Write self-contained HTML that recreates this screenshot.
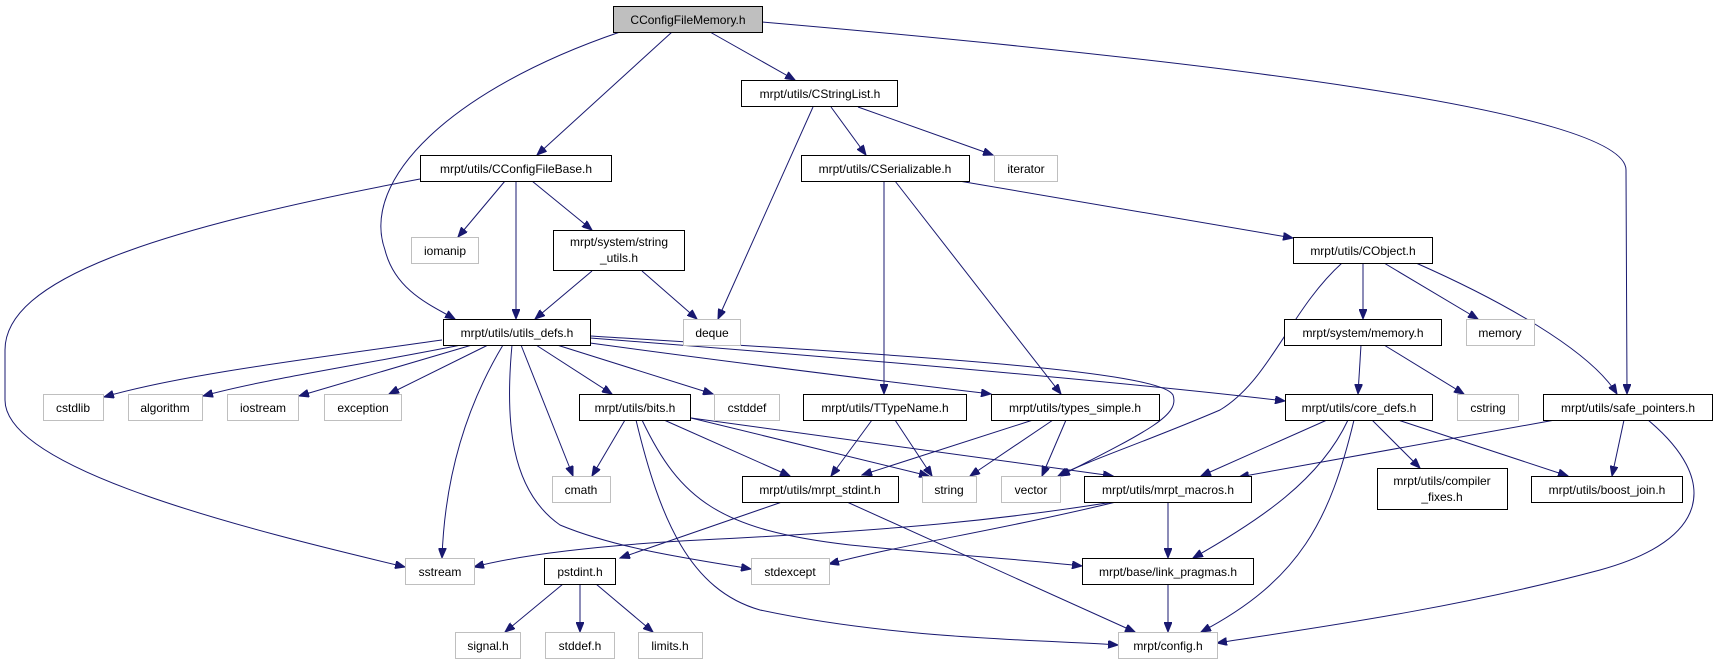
<!DOCTYPE html>
<html><head><meta charset="utf-8"><style>
html,body{margin:0;padding:0;background:#fff;}
svg{display:block;}
text{font-family:"Liberation Sans",sans-serif;font-size:12px;fill:#000;}
.n{fill:#fff;stroke:#000;stroke-width:1;}
.g{fill:#fff;stroke:#bfbfbf;stroke-width:1;}
.e{fill:none;stroke:#191970;stroke-width:1;}
</style></head><body>
<svg width="1718" height="664" viewBox="0 0 1718 664" xmlns="http://www.w3.org/2000/svg">
<defs>
<marker id="a" markerWidth="11" markerHeight="8" refX="10" refY="4" orient="auto" markerUnits="userSpaceOnUse">
<path d="M0,0 L10,4 L0,8 z" fill="#191970" stroke="#191970"/>
</marker>
</defs>
<g marker-end="url(#a)">
<path class="e" d="M620,32 C450,90 360,180 385,250 C395,290 430,305 455,319"/>
<path class="e" d="M672,32 L537,155"/>
<path class="e" d="M710,32 L795,80"/>
<path class="e" d="M762,22 C1200,60 1626,110 1626,170 L1627,394"/>
<path class="e" d="M813,107 L718,319"/>
<path class="e" d="M831,107 L866,155"/>
<path class="e" d="M858,107 L993,155"/>
<path class="e" d="M420,179 C150,230 5,280 5,350 L5,400 C5,470 250,530 405,567"/>
<path class="e" d="M505,181 L458,237"/>
<path class="e" d="M516,181 L516,319"/>
<path class="e" d="M532,181 L592,230"/>
<path class="e" d="M592,271 L535,319"/>
<path class="e" d="M642,271 L697,319"/>
<path class="e" d="M884,181 L884,394"/>
<path class="e" d="M895,181 L1061,394"/>
<path class="e" d="M959,181 L1293,238"/>
<path class="e" d="M1342,263 C1290,310 1270,380 1220,410 C1150,440 1090,460 1058,476"/>
<path class="e" d="M1363,263 L1363,319"/>
<path class="e" d="M1384,263 L1478,319"/>
<path class="e" d="M1416,263 C1500,300 1590,350 1617,394"/>
<path class="e" d="M1361,345 L1358,394"/>
<path class="e" d="M1384,345 L1464,394"/>
<path class="e" d="M442,340 C300,360 180,375 104,397"/>
<path class="e" d="M461,345 C360,365 260,380 203,396"/>
<path class="e" d="M472,345 L299,396"/>
<path class="e" d="M488,345 L389,394"/>
<path class="e" d="M503,345 C470,400 445,470 442,558"/>
<path class="e" d="M512,345 C505,420 510,490 560,525 C620,550 700,560 751,569"/>
<path class="e" d="M521,345 L573,476"/>
<path class="e" d="M536,345 L612,394"/>
<path class="e" d="M557,345 L713,394"/>
<path class="e" d="M590,343 C750,365 900,383 991,394"/>
<path class="e" d="M590,338 C900,362 1150,385 1285,401"/>
<path class="e" d="M590,336 C900,355 1160,370 1173,395 C1180,415 1150,430 1060,476"/>
<path class="e" d="M625,420 L592,476"/>
<path class="e" d="M664,420 L790,476"/>
<path class="e" d="M691,418 L929,476"/>
<path class="e" d="M691,418 L1113,476"/>
<path class="e" d="M642,420 C680,500 720,530 850,545 C950,555 1030,560 1082,566"/>
<path class="e" d="M636,420 C660,520 690,590 760,610 C900,640 1050,640 1118,645"/>
<path class="e" d="M872,420 L831,476"/>
<path class="e" d="M895,420 L932,476"/>
<path class="e" d="M1033,420 L862,475"/>
<path class="e" d="M1053,420 L970,476"/>
<path class="e" d="M1066,420 L1042,476"/>
<path class="e" d="M782,502 L620,558"/>
<path class="e" d="M847,502 L1135,632"/>
<path class="e" d="M563,584 L505,632"/>
<path class="e" d="M580,584 L580,632"/>
<path class="e" d="M596,584 L653,632"/>
<path class="e" d="M1327,420 L1201,476"/>
<path class="e" d="M1348,420 C1320,480 1260,520 1193,558"/>
<path class="e" d="M1354,420 C1330,520 1300,580 1201,632"/>
<path class="e" d="M1372,420 L1420,468"/>
<path class="e" d="M1398,420 L1568,476"/>
<path class="e" d="M1555,420 L1239,477"/>
<path class="e" d="M1624,420 L1612,476"/>
<path class="e" d="M1648,420 C1720,480 1710,540 1600,570 C1450,610 1300,630 1217,643"/>
<path class="e" d="M1113,502 C1000,520 900,530 700,540 C600,545 520,555 474,567"/>
<path class="e" d="M1116,502 C1000,530 900,545 829,564"/>
<path class="e" d="M1168,502 L1168,558"/>
<path class="e" d="M1168,583 L1168,632"/>
</g>
<g text-anchor="middle">
<rect x="613.5" y="6.5" width="149" height="26" fill="#bfbfbf" stroke="#000"/><text x="688" y="24">CConfigFileMemory.h</text>
<rect class="n" x="741.5" y="80.5" width="156" height="26"/><text x="820" y="98">mrpt/utils/CStringList.h</text>
<rect class="n" x="420.5" y="155.5" width="191" height="26"/><text x="516" y="173">mrpt/utils/CConfigFileBase.h</text>
<rect class="n" x="801.5" y="155.5" width="168" height="26"/><text x="885" y="173">mrpt/utils/CSerializable.h</text>
<rect class="g" x="994.5" y="155.5" width="63" height="26"/><text x="1026" y="173">iterator</text>
<rect class="g" x="411.5" y="237.5" width="67" height="26"/><text x="445" y="255">iomanip</text>
<rect class="n" x="553.5" y="230.5" width="131" height="40"/><text x="619" y="246">mrpt/system/string</text><text x="619" y="262">_utils.h</text>
<rect class="n" x="1293.5" y="237.5" width="139" height="26"/><text x="1363" y="255">mrpt/utils/CObject.h</text>
<rect class="n" x="443.5" y="319.5" width="147" height="26"/><text x="517" y="337">mrpt/utils/utils_defs.h</text>
<rect class="g" x="683.5" y="319.5" width="57" height="26"/><text x="712" y="337">deque</text>
<rect class="n" x="1284.5" y="319.5" width="157" height="26"/><text x="1363" y="337">mrpt/system/memory.h</text>
<rect class="g" x="1466.5" y="319.5" width="68" height="26"/><text x="1500" y="337">memory</text>
<rect class="g" x="43.5" y="394.5" width="60" height="26"/><text x="73" y="412">cstdlib</text>
<rect class="g" x="128.5" y="394.5" width="74" height="26"/><text x="165" y="412">algorithm</text>
<rect class="g" x="227.5" y="394.5" width="71" height="26"/><text x="263" y="412">iostream</text>
<rect class="g" x="324.5" y="394.5" width="77" height="26"/><text x="363" y="412">exception</text>
<rect class="n" x="579.5" y="394.5" width="111" height="26"/><text x="635" y="412">mrpt/utils/bits.h</text>
<rect class="g" x="714.5" y="394.5" width="65" height="26"/><text x="747" y="412">cstddef</text>
<rect class="n" x="803.5" y="394.5" width="163" height="26"/><text x="885" y="412">mrpt/utils/TTypeName.h</text>
<rect class="n" x="991.5" y="394.5" width="168" height="26"/><text x="1075" y="412">mrpt/utils/types_simple.h</text>
<rect class="n" x="1285.5" y="394.5" width="147" height="26"/><text x="1359" y="412">mrpt/utils/core_defs.h</text>
<rect class="g" x="1457.5" y="394.5" width="61" height="26"/><text x="1488" y="412">cstring</text>
<rect class="n" x="1543.5" y="394.5" width="169" height="26"/><text x="1628" y="412">mrpt/utils/safe_pointers.h</text>
<rect class="g" x="552.5" y="476.5" width="58" height="26"/><text x="581" y="494">cmath</text>
<rect class="n" x="742.5" y="476.5" width="156" height="26"/><text x="820" y="494">mrpt/utils/mrpt_stdint.h</text>
<rect class="g" x="922.5" y="476.5" width="54" height="26"/><text x="949" y="494">string</text>
<rect class="g" x="1001.5" y="476.5" width="59" height="26"/><text x="1031" y="494">vector</text>
<rect class="n" x="1084.5" y="476.5" width="167" height="26"/><text x="1168" y="494">mrpt/utils/mrpt_macros.h</text>
<rect class="n" x="1377.5" y="468.5" width="130" height="41"/><text x="1442" y="485">mrpt/utils/compiler</text><text x="1442" y="501">_fixes.h</text>
<rect class="n" x="1531.5" y="476.5" width="151" height="26"/><text x="1607" y="494">mrpt/utils/boost_join.h</text>
<rect class="g" x="405.5" y="558.5" width="69" height="26"/><text x="440" y="576">sstream</text>
<rect class="n" x="544.5" y="558.5" width="71" height="26"/><text x="580" y="576">pstdint.h</text>
<rect class="g" x="751.5" y="558.5" width="78" height="26"/><text x="790" y="576">stdexcept</text>
<rect class="n" x="1082.5" y="558.5" width="171" height="26"/><text x="1168" y="576">mrpt/base/link_pragmas.h</text>
<rect class="g" x="455.5" y="632.5" width="65" height="26"/><text x="488" y="650">signal.h</text>
<rect class="g" x="545.5" y="632.5" width="69" height="26"/><text x="580" y="650">stddef.h</text>
<rect class="g" x="638.5" y="632.5" width="64" height="26"/><text x="670" y="650">limits.h</text>
<rect class="g" x="1118.5" y="632.5" width="99" height="26"/><text x="1168" y="650">mrpt/config.h</text>
</g>
</svg>
</body></html>
